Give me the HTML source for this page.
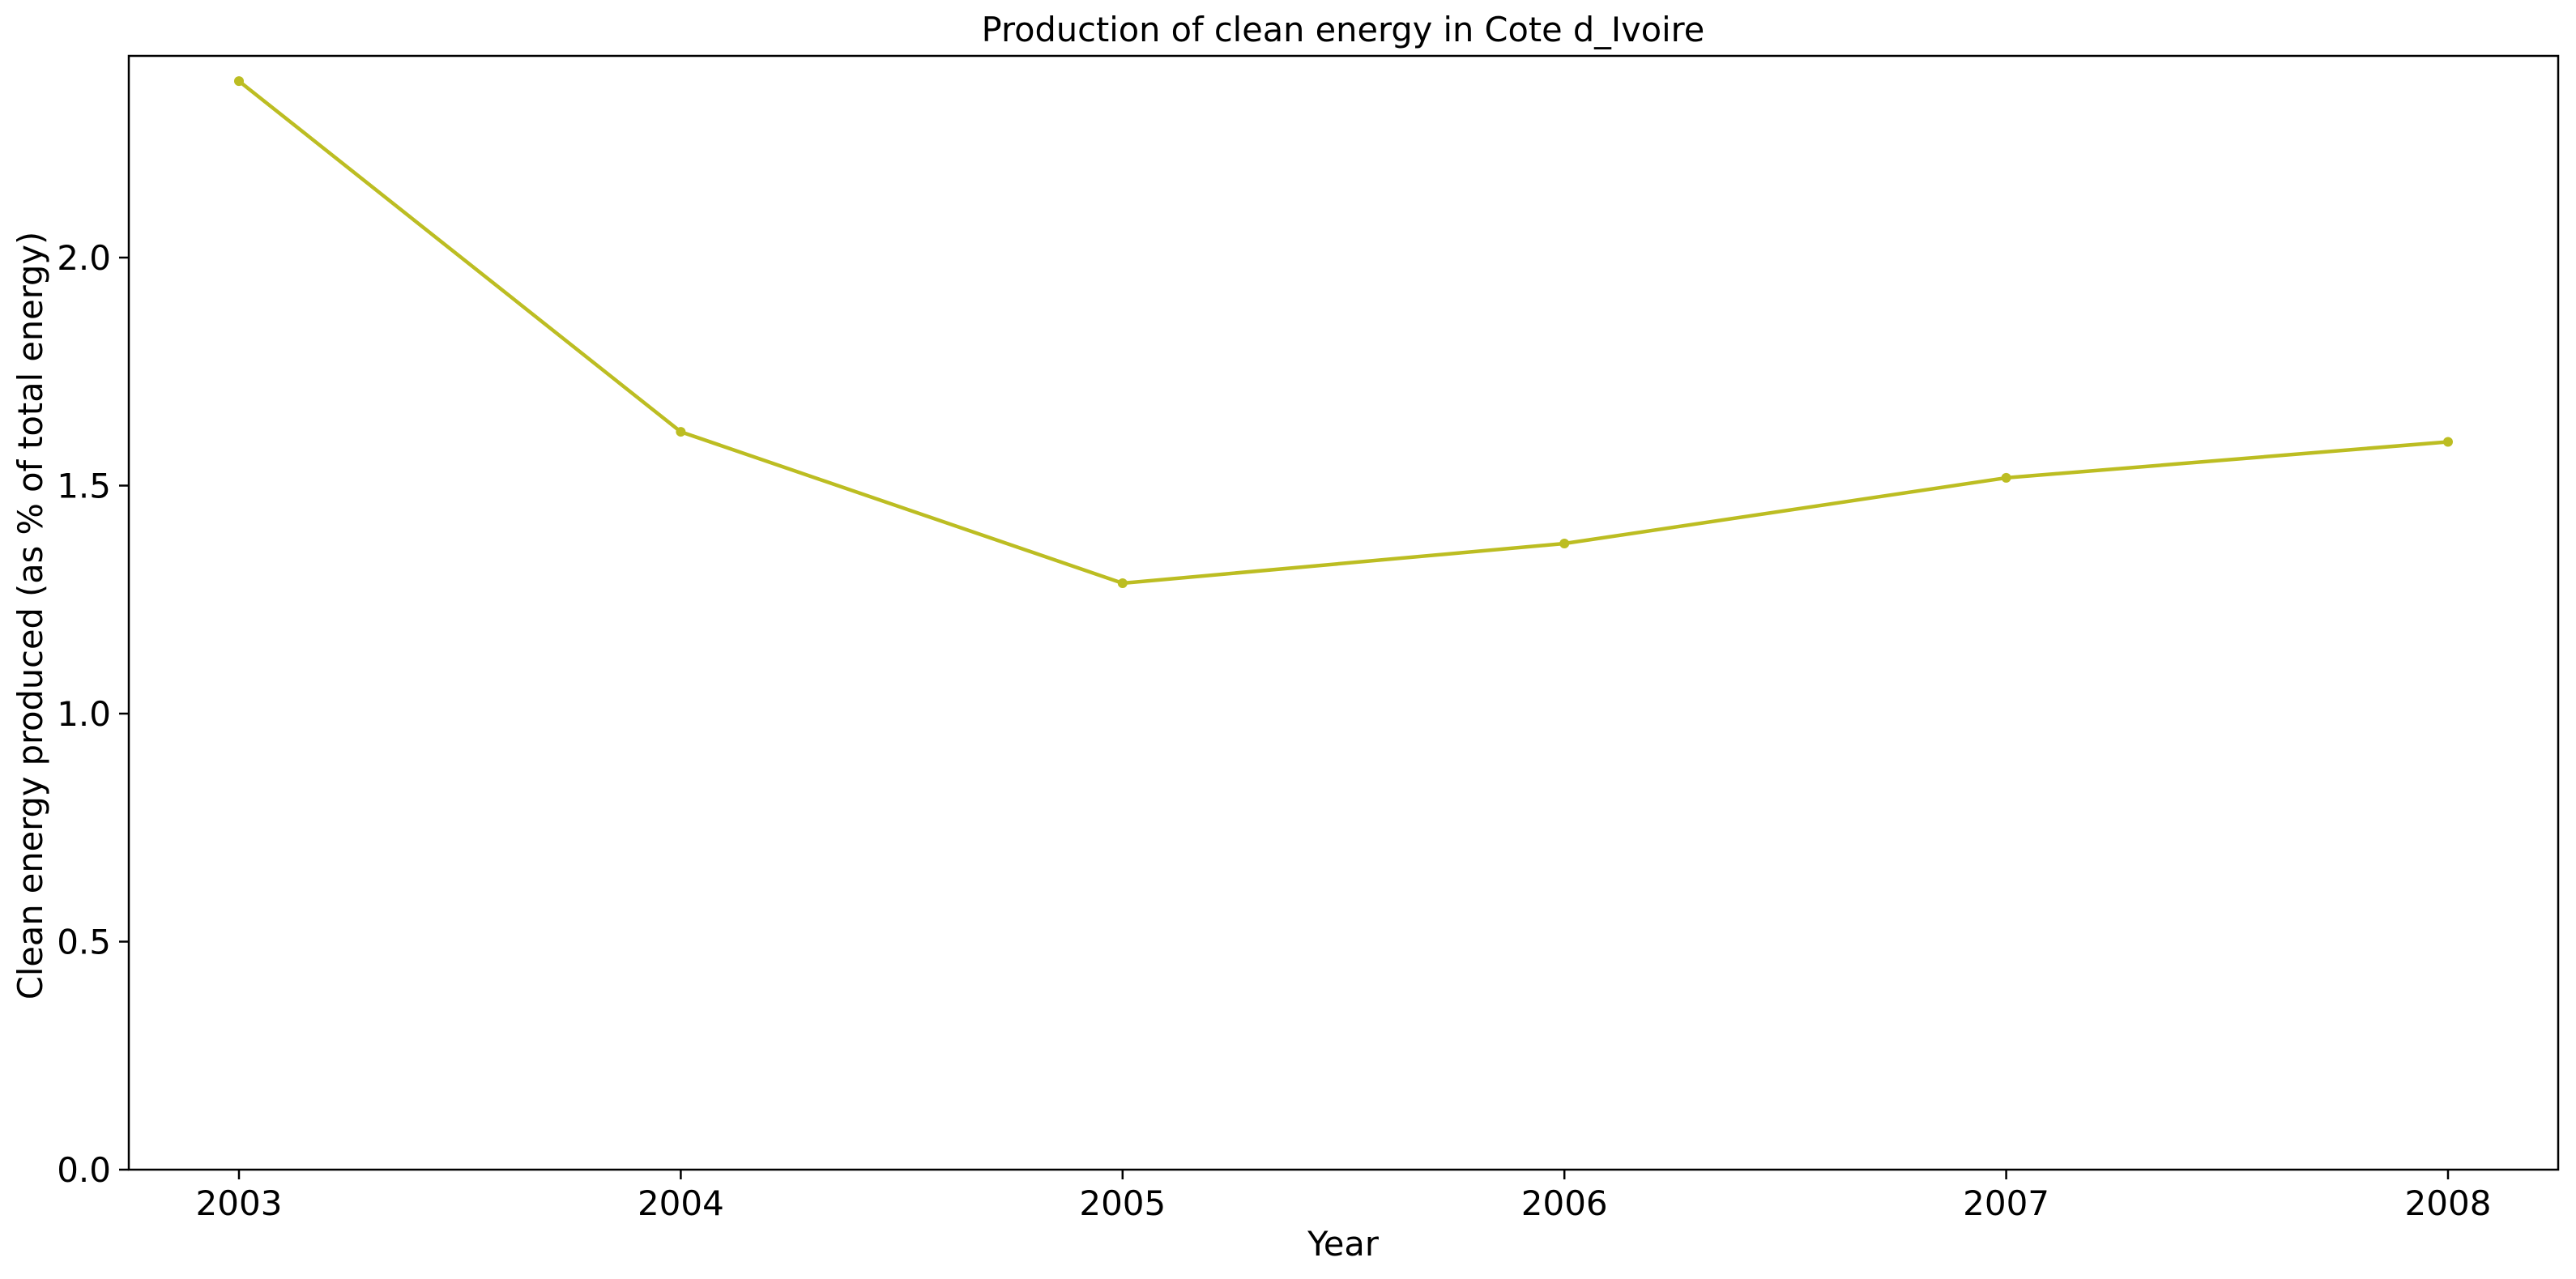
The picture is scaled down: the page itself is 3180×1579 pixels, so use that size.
<!DOCTYPE html>
<html><head><meta charset="utf-8"><style>
body{margin:0;background:#fff}
svg{display:block;font-family:"DejaVu Sans","Liberation Sans",sans-serif}
</style></head><body>
<svg id="chart" width="3180" height="1579" viewBox="0 0 3180 1579">
<rect width="3180" height="1579" fill="#fff"/>
<text x="1658" y="51" font-size="41.5" text-anchor="middle">Production of clean energy in Cote d_Ivoire</text>
<g id="axes"></g>
<g id="series"></g>
<rect x="159" y="69" width="2999" height="1375" fill="none" stroke="#000" stroke-width="2.5"/>
<text x="1658" y="1550" font-size="41.5" text-anchor="middle">Year</text>
<text transform="translate(52,760) rotate(-90)" font-size="41.5" text-anchor="middle">Clean energy produced (as % of total energy)</text>
</svg>
<script>
const years = [2003, 2004, 2005, 2006, 2007, 2008];
const values = [2.387, 1.618, 1.286, 1.373, 1.517, 1.596];
const yTicks = [0.0, 0.5, 1.0, 1.5, 2.0];
const yTickLabels = ["0.0", "0.5", "1.0", "1.5", "2.0"];

const NS = "http://www.w3.org/2000/svg";
const L = 159, R = 3158, T = 69, B = 1444;
const x0 = 295, x1 = 3022;
const yMax = (B - T) / 563;
function xs(v){ return x0 + (v - years[0]) / (years[years.length-1] - years[0]) * (x1 - x0); }
function ys(v){ return B - v / yMax * (B - T); }
function mk(tag, attrs, parent){ const e = document.createElementNS(NS, tag); for (const k in attrs) e.setAttribute(k, attrs[k]); parent.appendChild(e); return e; }

const axes = document.getElementById('axes');
years.forEach(function(yr){
  const t = mk('line', {x1: xs(yr), x2: xs(yr), y1: B, y2: B + 12, stroke: '#000', 'stroke-width': 2.5}, axes);
  
  
  const l = mk('text', {x: xs(yr), y: B + 56, 'font-size': 42, 'text-anchor': 'middle'}, axes);
  l.textContent = yr;
  
  
});
yTicks.forEach(function(v, i){
  const t = mk('line', {x1: L - 12, x2: L, y1: ys(v), y2: ys(v), stroke: '#000', 'stroke-width': 2.5}, axes);
  
  
  const l = mk('text', {x: L - 22, y: ys(v) + 15, 'font-size': 42, 'text-anchor': 'end'}, axes);
  l.textContent = yTickLabels[i];
  
  
});

const series = document.getElementById('series');
const pts = years.map(function(yr, i){ return xs(yr) + ',' + ys(values[i]); }).join(' ');
const line = mk('polyline', {points: pts, fill: 'none', stroke: '#bcbd22', 'stroke-width': 4.5, 'stroke-linejoin': 'round'}, series);


years.forEach(function(yr, i){
  const c = mk('circle', {cx: xs(yr), cy: ys(values[i]), r: 6, fill: '#bcbd22'}, series);
  
  
});
</script>
</body></html>
